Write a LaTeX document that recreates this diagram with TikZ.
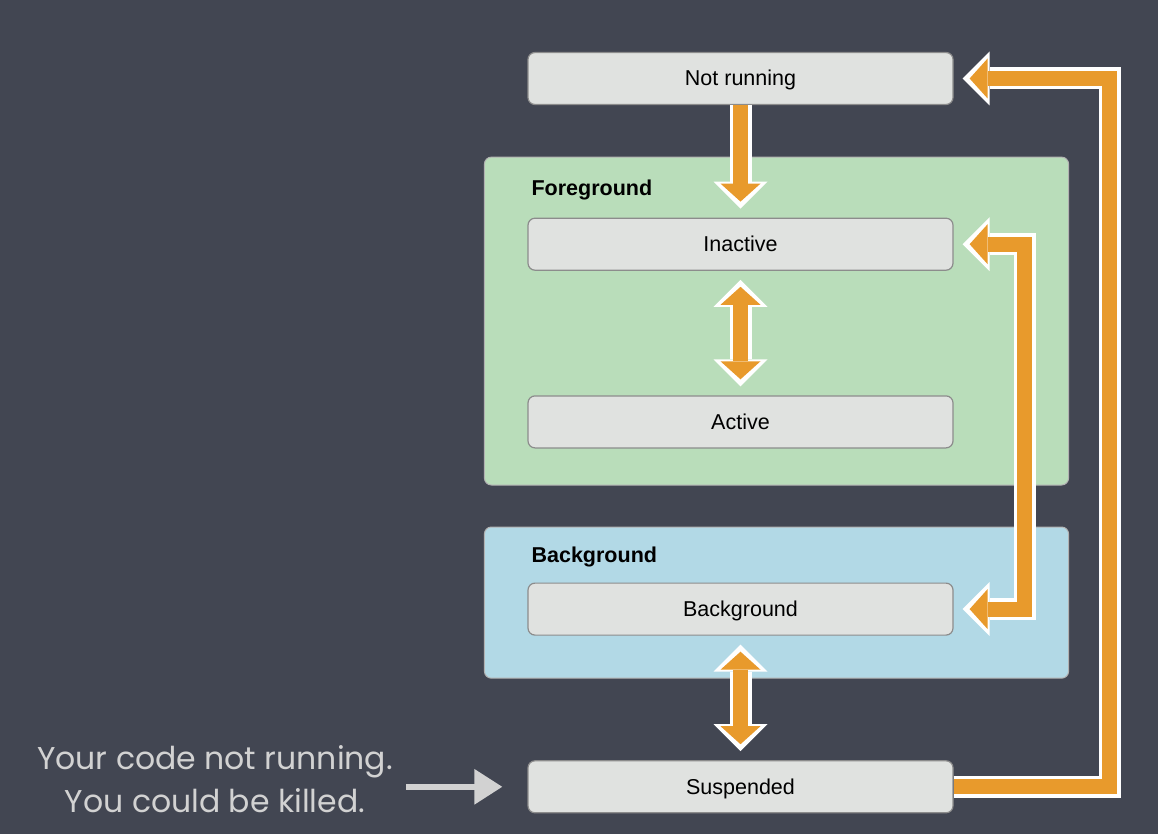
\documentclass[tikz,border=0pt]{standalone}
\usepackage{fontspec}
\setmainfont{Liberation Sans}
\newfontfamily\chalkfont{Poppins}
\usetikzlibrary{positioning,arrows.meta,backgrounds}

\definecolor{slate}{RGB}{66,70,82}
\definecolor{lcorange}{RGB}{232,154,44}
\definecolor{lcbox}{RGB}{224,226,224}
\definecolor{lcgreen}{RGB}{185,221,186}
\definecolor{lcblue}{RGB}{178,217,230}
\definecolor{chalk}{RGB}{210,210,210}

\begin{document}
\begin{tikzpicture}[x=1pt,y=-1pt,
    state/.style={rectangle,rounded corners=7pt,fill=lcbox,draw=gray!90,line width=1.2pt,
        minimum width=425pt,minimum height=52pt,text depth=1pt,font=\fontsize{21.5}{25}\selectfont},
    panel/.style={rounded corners=7pt,draw=gray!60,line width=1pt},
    tag/.style={inner sep=0pt,font=\bfseries\fontsize{21.5}{25}\selectfont},
    halo/.style={draw=white,line width=22pt,line join=miter,
        >={Triangle[width=54pt,length=27pt,line width=0pt]},shorten >=9pt,shorten <=9pt},
    flow/.style={draw=lcorange,line width=15pt,line join=miter,
        >={Triangle[width=40pt,length=18pt,line width=0pt]},shorten >=16pt,shorten <=16pt},
    note/.style={align=center,text=chalk,font=\chalkfont\fontsize{31.5}{43}\selectfont},
    chalkarrow/.style={draw=chalk,line width=6pt,-{Triangle[width=34pt,length=28pt]}}]

    \useasboundingbox (0,0) rectangle (1158,834);

    \node[state] (NR) at (740.5,78.5) {Not running};
    \node[state,below=112.5pt of NR] (INA) {Inactive};
    \node[state,below=124.5pt of INA] (ACT) {Active};
    \node[state,below=134pt of ACT] (BG) {Background};
    \node[state,below=124.5pt of BG] (SUS) {Suspended};

    \node[tag,anchor=base west] (FGL) at ([xshift=4pt,yshift=22.5pt]INA.north west) {Foreground};
    \node[tag,anchor=base west] (BGL) at ([xshift=4pt,yshift=20.5pt]BG.north west) {Background};

    \node[note] (YC) at (215,779) {Your code not running.\\You could be killed.};

    \begin{scope}[on background layer]
        \fill[slate] (0,0) rectangle (1158,834);
        \draw[panel,fill=lcgreen] ([xshift=-43pt,yshift=60.5pt]INA.north west) rectangle ([xshift=115pt,yshift=-36.5pt]ACT.south east);
        \draw[panel,fill=lcblue] ([xshift=-43pt,yshift=55.5pt]BG.north west) rectangle ([xshift=115pt,yshift=-42.5pt]BG.south east);
    \end{scope}

    \foreach \pass in {halo,flow}{
        \draw[\pass,->,shorten <=0pt] (NR) -- (INA);
        \draw[\pass,<->] (INA) -- (ACT);
        \draw[\pass,<->] (BG) -- (SUS);
        \draw[\pass,<->] (BG.east) -- ++(71,0) |- (INA.east);
        \draw[\pass,->,shorten <=0pt] (SUS.east) -- ++(156,0) |- (NR.east);
    }

    \draw[chalkarrow,shorten <=10pt,shorten >=25pt] (YC.east |- SUS.west) -- (SUS.west);
\end{tikzpicture}
\end{document}
